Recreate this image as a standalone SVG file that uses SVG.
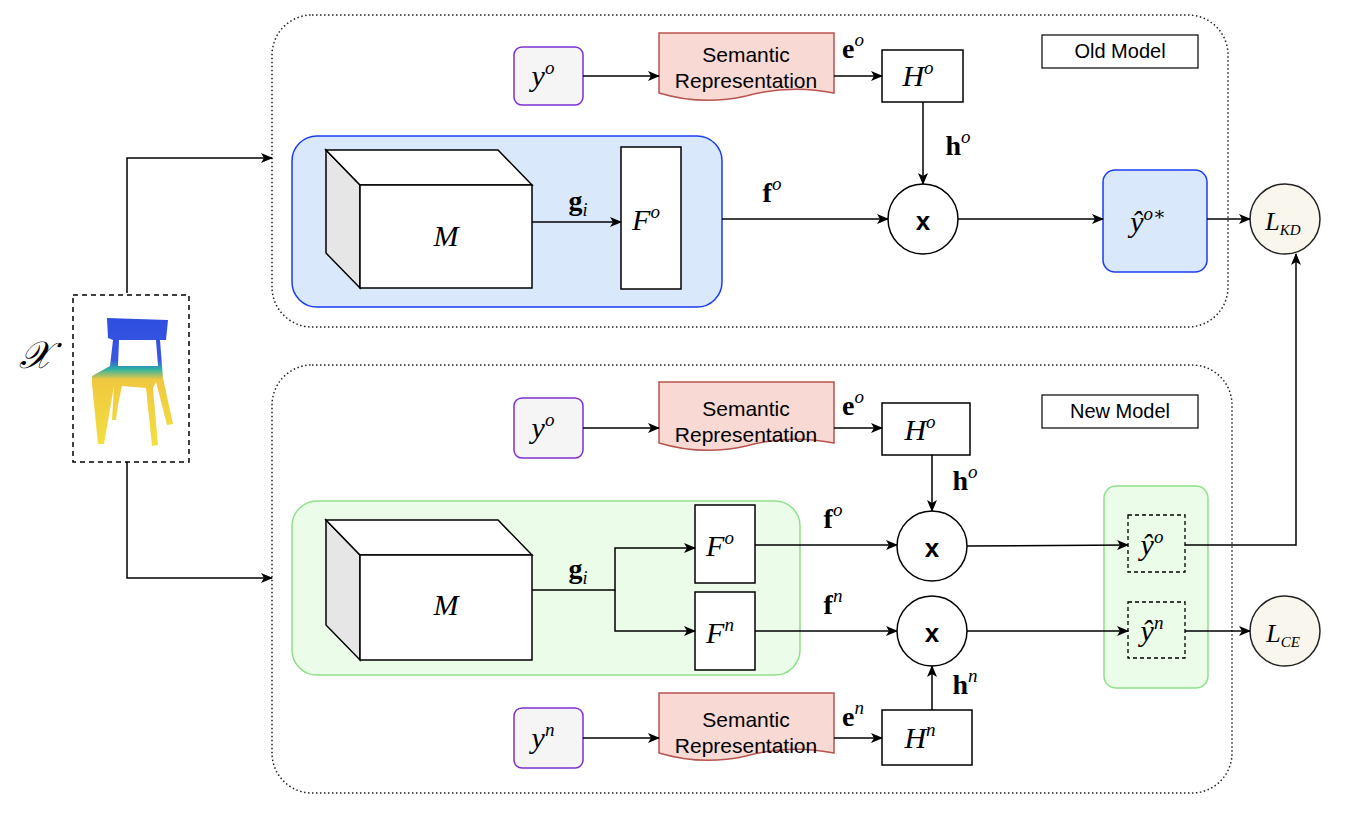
<svg xmlns="http://www.w3.org/2000/svg" width="1350" height="813" viewBox="0 0 1350 813">
<style>
.grp{fill:none;stroke:#222;stroke-width:1.5;stroke-dasharray:1.5 2.5}
.lbl{fill:#fff;stroke:#000;stroke-width:1.2}
.sans{font-family:"Liberation Sans",Arial,sans-serif;font-size:20px;text-anchor:middle}
.sem{font-family:"Liberation Sans",Arial,sans-serif;font-size:21px;text-anchor:middle}
.m{font-family:"Liberation Serif","DejaVu Serif",serif;font-style:italic;font-size:30px;text-anchor:middle}
.b{font-family:"Liberation Serif","DejaVu Serif",serif;font-weight:bold;font-size:28px;text-anchor:middle}
.sup{font-size:19px}
.y{fill:#f5f5f5;stroke:#7f2fd0;stroke-width:1.5}
.doc{fill:#f8d9d3;stroke:#b85450;stroke-width:1.5}
.box{fill:#fff;stroke:#000;stroke-width:1.5}
.front{fill:#fff;stroke:#000;stroke-width:1.5}
.side{fill:#e6e6e6;stroke:#000;stroke-width:1.5}
.circ{fill:#fff;stroke:#000;stroke-width:1.5}
.loss{fill:#f9f7ed;stroke:#222;stroke-width:1.5}
.ln{fill:none;stroke:#000;stroke-width:1.5}
.dash{fill:#fff;fill-opacity:0;stroke:#000;stroke-width:1.3;stroke-dasharray:4 3}
</style>
<defs>
<marker id="a" markerWidth="12" markerHeight="10" refX="11" refY="5" orient="auto" markerUnits="userSpaceOnUse"><path d="M0,0 L12,5 L0,10 L3,5 z" fill="#000"/></marker>
<linearGradient id="cg" x1="0" y1="0" x2="0" y2="1"><stop offset="0" stop-color="#2d4ee0"/><stop offset="0.33" stop-color="#3a56e0"/><stop offset="0.40" stop-color="#2fb3a0"/><stop offset="0.48" stop-color="#f0c840"/><stop offset="1" stop-color="#f2e040"/></linearGradient>
</defs>

<g id="old-model"><rect class="grp" x="272" y="15" width="956" height="312" rx="40"/></g>
<g id="new-model"><rect class="grp" x="272" y="365" width="960" height="428" rx="40"/></g>
<g id="old-label"><rect class="lbl" x="1042" y="35" width="156" height="33"/><text class="sans" x="1120" y="58">Old Model</text></g>
<g id="new-label"><rect class="lbl" x="1042" y="395" width="156" height="33"/><text class="sans" x="1120" y="418">New Model</text></g>

<g id="input">
<text x="35" y="368" style="font-family:'DejaVu Serif',serif;font-style:italic;font-size:38px;text-anchor:middle">𝒳</text>
<rect x="73" y="295" width="116" height="167" fill="#fff" stroke="#000" stroke-width="1.5" stroke-dasharray="5 4"/>
<path d="M107,318 L168,320 L166,340 L160,340 L163,378 L173,424 L167,425 L156,382 L153,388 L158,445 L152,446 L146,388 L122,386 L118,405 L116,420 L112,420 L114,386 L104,444 L98,444 L92,384 L92,376 L110,366 L113,340 L108,338 Z M119,340 L156,340 L158,366 L118,366 Z" fill="url(#cg)" fill-rule="evenodd"/>
</g>

<g id="old-y"><rect class="y" x="514" y="47" width="69" height="58" rx="8"/><text class="m" x="543" y="86">y<tspan class="sup" dy="-12">o</tspan></text></g>
<g id="old-sem"><path class="doc" d="M659,33 H834 V93 Q790,84 746,96 Q702,106 659,93 Z"/><text class="sem" x="746" y="62">Semantic</text><text class="sem" x="746" y="88">Representation</text></g>
<g id="old-H"><rect class="box" x="882" y="50" width="81" height="52"/><text class="m" x="918" y="86">H<tspan class="sup" dy="-12">o</tspan></text></g>
<g id="old-panel"><rect x="292" y="136" width="430" height="171" rx="25" fill="#dae8fc" stroke="#1a3cf0" stroke-width="1.5"/></g>
<g id="old-M"><path class="side" d="M326,150 L360,185 L360,288 L326,253 Z"/><path class="front" d="M326,150 L498,150 L532,185 L360,185 Z"/><rect class="front" x="360" y="185" width="172" height="103"/><text class="m" x="446" y="246">M</text></g>
<g id="old-F"><rect class="box" x="621" y="147" width="60" height="142"/><text class="m" x="646" y="230">F<tspan class="sup" dy="-12">o</tspan></text></g>
<g id="old-x"><circle class="circ" cx="923" cy="219" r="35"/><text x="923" y="230" style="font-family:'Liberation Sans',sans-serif;font-weight:bold;font-size:26px;text-anchor:middle">x</text></g>
<g id="old-yhat"><rect x="1103" y="170" width="104" height="102" rx="12" fill="#dae8fc" stroke="#1a3cf0" stroke-width="1.5"/><text class="m" x="1148" y="232">ŷ<tspan class="sup" dy="-12">o∗</tspan></text></g>
<g id="LKD"><circle class="loss" cx="1285" cy="219" r="35"/><text class="m" x="1283" y="230" style="font-size:26px">L<tspan style="font-size:15px" dy="5">KD</tspan></text></g>

<g id="new-y"><rect class="y" x="514" y="398" width="69" height="60" rx="8"/><text class="m" x="543" y="438">y<tspan class="sup" dy="-12">o</tspan></text></g>
<g id="new-sem"><path class="doc" d="M659,382 H834 V443 Q790,434 746,446 Q702,456 659,443 Z"/><text class="sem" x="746" y="416">Semantic</text><text class="sem" x="746" y="442">Representation</text></g>
<g id="new-H"><rect class="box" x="882" y="403" width="88" height="52"/><text class="m" x="920" y="440">H<tspan class="sup" dy="-12">o</tspan></text></g>
<g id="new-panel"><rect x="292" y="501" width="508" height="174" rx="25" fill="#ebfce9" stroke="#8ee08a" stroke-width="1.5"/></g>
<g id="new-M"><path class="side" d="M326,520 L360,555 L360,660 L326,625 Z"/><path class="front" d="M326,520 L498,520 L532,555 L360,555 Z"/><rect class="front" x="360" y="555" width="172" height="105"/><text class="m" x="446" y="615">M</text></g>
<g id="new-Fo"><rect class="box" x="695" y="505" width="60" height="78"/><text class="m" x="720" y="556">F<tspan class="sup" dy="-12">o</tspan></text></g>
<g id="new-Fn"><rect class="box" x="695" y="592" width="60" height="78"/><text class="m" x="720" y="643">F<tspan class="sup" dy="-12">n</tspan></text></g>
<g id="new-x1"><circle class="circ" cx="932" cy="546" r="35"/><text x="932" y="557" style="font-family:'Liberation Sans',sans-serif;font-weight:bold;font-size:26px;text-anchor:middle">x</text></g>
<g id="new-x2"><circle class="circ" cx="932" cy="631" r="35"/><text x="932" y="642" style="font-family:'Liberation Sans',sans-serif;font-weight:bold;font-size:26px;text-anchor:middle">x</text></g>
<g id="new-out"><rect x="1104" y="486" width="104" height="202" rx="12" fill="#ebfce9" stroke="#8ee08a" stroke-width="1.5"/></g>
<g id="yhat-o"><rect class="dash" x="1128" y="515" width="57" height="57"/><text class="m" x="1152" y="555">ŷ<tspan class="sup" dy="-12">o</tspan></text></g>
<g id="yhat-n"><rect class="dash" x="1128" y="602" width="57" height="56"/><text class="m" x="1152" y="641">ŷ<tspan class="sup" dy="-12">n</tspan></text></g>
<g id="LCE"><circle class="loss" cx="1285" cy="631" r="35"/><text class="m" x="1283" y="642" style="font-size:26px">L<tspan style="font-size:15px" dy="5">CE</tspan></text></g>
<g id="yn"><rect class="y" x="514" y="708" width="69" height="60" rx="8"/><text class="m" x="543" y="748">y<tspan class="sup" dy="-12">n</tspan></text></g>
<g id="new-sem2"><path class="doc" d="M659,693 H834 V753 Q790,744 746,756 Q702,766 659,753 Z"/><text class="sem" x="746" y="727">Semantic</text><text class="sem" x="746" y="753">Representation</text></g>
<g id="Hn"><rect class="box" x="882" y="710" width="90" height="55"/><text class="m" x="920" y="748">H<tspan class="sup" dy="-12">n</tspan></text></g>

<g id="connectors">
<path class="ln" d="M127,293 V158 H272" marker-end="url(#a)"/>
<path class="ln" d="M127,462 V578 H272" marker-end="url(#a)"/>
<path class="ln" d="M583,76 H659" marker-end="url(#a)"/>
<path class="ln" d="M834,76 H882" marker-end="url(#a)"/>
<path class="ln" d="M923,102 V184" marker-end="url(#a)"/>
<path class="ln" d="M532,222 H621" marker-end="url(#a)"/>
<path class="ln" d="M722,219 H888" marker-end="url(#a)"/>
<path class="ln" d="M958,219 H1103" marker-end="url(#a)"/>
<path class="ln" d="M1207,219 H1250" marker-end="url(#a)"/>
<path class="ln" d="M583,428 H659" marker-end="url(#a)"/>
<path class="ln" d="M834,428 H882" marker-end="url(#a)"/>
<path class="ln" d="M932,455 V511" marker-end="url(#a)"/>
<path class="ln" d="M532,590 H615 V548 H695" marker-end="url(#a)"/>
<path class="ln" d="M615,590 V631 H695" marker-end="url(#a)"/>
<path class="ln" d="M755,545 H897" marker-end="url(#a)"/>
<path class="ln" d="M755,631 H897" marker-end="url(#a)"/>
<path class="ln" d="M967,546 L1128,545" marker-end="url(#a)"/>
<path class="ln" d="M967,631 H1128" marker-end="url(#a)"/>
<path class="ln" d="M1185,545 H1296 V254" marker-end="url(#a)"/>
<path class="ln" d="M1185,631 H1250" marker-end="url(#a)"/>
<path class="ln" d="M583,738 H659" marker-end="url(#a)"/>
<path class="ln" d="M834,738 H882" marker-end="url(#a)"/>
<path class="ln" d="M932,710 V666" marker-end="url(#a)"/>
<text class="b" x="853" y="58">e<tspan class="sup" dy="-12" style="font-style:italic;font-weight:normal">o</tspan></text>
<text class="b" x="958" y="155">h<tspan class="sup" dy="-12" style="font-style:italic;font-weight:normal">o</tspan></text>
<text class="b" x="578" y="210">g<tspan style="font-size:18px;font-style:italic;font-weight:normal" dy="6">i</tspan></text>
<text class="b" x="772" y="202">f<tspan class="sup" dy="-12" style="font-style:italic;font-weight:normal">o</tspan></text>
<text class="b" x="853" y="415">e<tspan class="sup" dy="-12" style="font-style:italic;font-weight:normal">o</tspan></text>
<text class="b" x="965" y="490">h<tspan class="sup" dy="-12" style="font-style:italic;font-weight:normal">o</tspan></text>
<text class="b" x="578" y="578">g<tspan style="font-size:18px;font-style:italic;font-weight:normal" dy="6">i</tspan></text>
<text class="b" x="833" y="528">f<tspan class="sup" dy="-12" style="font-style:italic;font-weight:normal">o</tspan></text>
<text class="b" x="833" y="614">f<tspan class="sup" dy="-12" style="font-style:italic;font-weight:normal">n</tspan></text>
<text class="b" x="853" y="726">e<tspan class="sup" dy="-12" style="font-style:italic;font-weight:normal">n</tspan></text>
<text class="b" x="965" y="694">h<tspan class="sup" dy="-12" style="font-style:italic;font-weight:normal">n</tspan></text>
</g>
</svg>
